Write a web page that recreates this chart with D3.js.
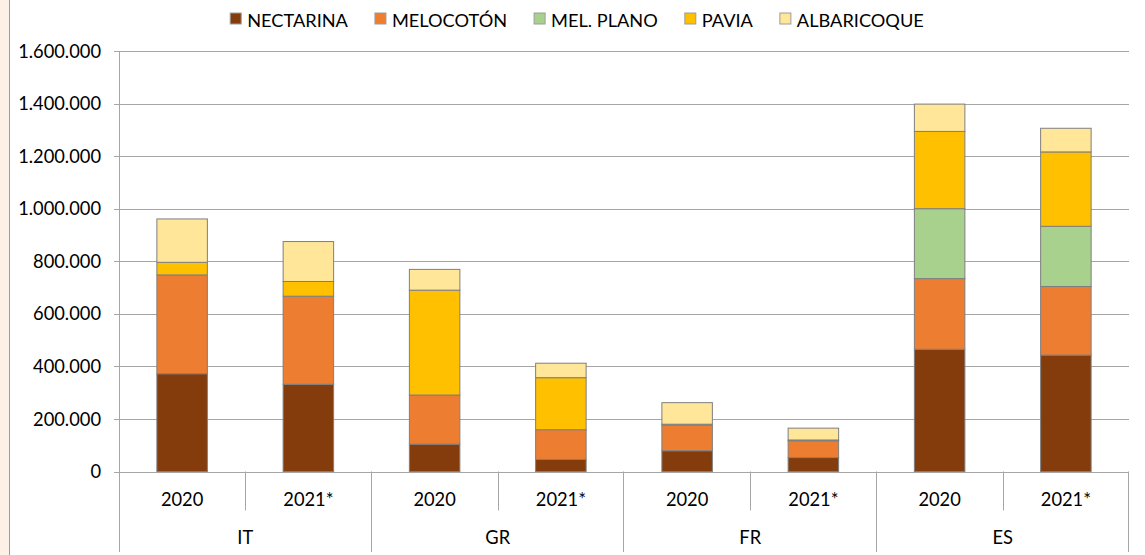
<!DOCTYPE html>
<html>
<head>
<meta charset="utf-8">
<script src="https://cdn.jsdelivr.net/npm/d3@7"></script>
<style>
  body { margin: 0; background: #fff; }
  svg { display: block; font-family: Lato, "Liberation Sans", sans-serif; }
</style>
</head>
<body>
<div id="chart"></div>
<script>
// data
var countries = ["IT", "GR", "FR", "ES"];
var years = ["2020", "2021*"];
var seriesNames = ["NECTARINA", "MELOCOTÓN", "MEL. PLANO", "PAVIA", "ALBARICOQUE"];
var colors = ["#843C0C", "#ED7D31", "#A9D18E", "#FFC000", "#FFE699"];

// order: IT 2020, IT 2021*, GR 2020, GR 2021*, FR 2020, FR 2021*, ES 2020, ES 2021*
var nectarina   = [372000, 332000, 104000, 46000, 79000, 53000, 465000, 443000];
var melocoton   = [376000, 335000, 187000, 113000, 98000, 64000, 269000, 261000];
var melPlano    = [0, 0, 0, 0, 0, 0, 266000, 229000];
var pavia       = [48000, 56000, 399000, 198000, 3000, 3000, 294000, 283000];
var albaricoque = [165000, 152000, 79000, 55000, 82000, 45000, 104000, 90000];

var yTicks = [0, 200000, 400000, 600000, 800000, 1000000, 1200000, 1400000, 1600000];

var svgWidth = 1145, svgHeight = 555;
var margin = { top: 51, left: 119, right: 16, bottom: 83.5 };

var svg = d3.select("#chart").append("svg")
  .attr("width", svgWidth)
  .attr("height", svgHeight);

// beige strip on the left edge
svg.append("rect")
  .attr("x", 0).attr("y", 0)
  .attr("width", 9).attr("height", svgHeight)
  .attr("fill", "#FDF1E7");
svg.append("line")
  .attr("x1", 9.5).attr("x2", 9.5)
  .attr("y1", 0).attr("y2", svgHeight)
  .attr("stroke", "#9C9C9C");

// build table
var table = [];
countries.forEach(function(c, ci) {
  years.forEach(function(y, yi) {
    var i = ci * 2 + yi;
    table.push({
      country: c, year: y,
      "NECTARINA": nectarina[i],
      "MELOCOTÓN": melocoton[i],
      "MEL. PLANO": melPlano[i],
      "PAVIA": pavia[i],
      "ALBARICOQUE": albaricoque[i]
    });
  });
});

var x0 = d3.scaleBand()
  .domain(countries)
  .range([margin.left, svgWidth - margin.right]);

var x1 = d3.scaleBand()
  .domain(years)
  .range([0, x0.bandwidth()])
  .paddingInner(0.6)
  .paddingOuter(0.3);

var yScale = d3.scaleLinear()
  .domain([0, 1600000])
  .range([svgHeight - margin.bottom, margin.top]);

var locale = d3.formatLocale({ decimal: ",", thousands: ".", grouping: [3], currency: ["", "€"] });
var fmt = locale.format(",d");

var gridColor = "#A6A6A6";
var fontSize = 18.3;

// gridlines
svg.append("g")
  .selectAll("line")
  .data(yTicks)
  .enter()
  .append("line")
  .attr("x1", margin.left - 5)
  .attr("x2", svgWidth - margin.right)
  .attr("y1", d => Math.round(yScale(d)) + 0.5)
  .attr("y2", d => Math.round(yScale(d)) + 0.5)
  .attr("stroke", gridColor);

// y labels
svg.append("g")
  .selectAll("text")
  .data(yTicks)
  .enter()
  .append("text")
  .attr("x", margin.left - 18)
  .attr("y", d => yScale(d))
  .attr("dy", "0.36em")
  .attr("text-anchor", "end")
  .attr("font-size", fontSize)
  .attr("fill", "#000")
  .text(d => fmt(d));

// y axis line
svg.append("line")
  .attr("x1", margin.left + 0.5).attr("x2", margin.left + 0.5)
  .attr("y1", margin.top).attr("y2", svgHeight - 3)
  .attr("stroke", gridColor);

// stacked bars
var stack = d3.stack().keys(seriesNames);
var stacked = stack(table);

svg.append("g")
  .selectAll("g")
  .data(stacked)
  .enter()
  .append("g")
  .attr("fill", (d, i) => colors[i])
  .selectAll("rect")
  .data(d => d.filter(p => p[1] - p[0] > 0))
  .enter()
  .append("rect")
  .attr("x", d => x0(d.data.country) + x1(d.data.year))
  .attr("width", x1.bandwidth())
  .attr("y", d => yScale(d[1]))
  .attr("height", d => yScale(d[0]) - yScale(d[1]))
  .attr("stroke", "#7F7F7F")
  .attr("stroke-width", 1);

// x axis: year separators and country separators
var axisY = yScale(0);
var xg = svg.append("g");

countries.forEach(function(c) {
  // middle separator between years
  var mid = Math.round(x0(c) + x0.bandwidth() / 2) + 0.5;
  xg.append("line")
    .attr("x1", mid).attr("x2", mid)
    .attr("y1", axisY).attr("y2", axisY + 39)
    .attr("stroke", gridColor);
  // right group boundary
  var right = Math.round(x0(c) + x0.bandwidth()) - 0.5;
  xg.append("line")
    .attr("x1", right).attr("x2", right)
    .attr("y1", axisY).attr("y2", svgHeight - 3)
    .attr("stroke", gridColor);

  years.forEach(function(y) {
    xg.append("text")
      .attr("x", x0(c) + x1(y) + x1.bandwidth() / 2)
      .attr("y", axisY + 34)
      .attr("text-anchor", "middle")
      .attr("font-size", fontSize)
      .attr("fill", "#000")
      .text(y);
  });

  xg.append("text")
    .attr("x", x0(c) + x0.bandwidth() / 2)
    .attr("y", axisY + 72)
    .attr("text-anchor", "middle")
    .attr("font-size", fontSize)
    .attr("fill", "#000")
    .text(c);
});

// legend
var legend = svg.append("g");
var items = legend.selectAll("g")
  .data(seriesNames)
  .enter()
  .append("g");

items.append("rect")
  .attr("width", 11).attr("height", 11)
  .attr("y", 13)
  .attr("fill", (d, i) => colors[i])
  .attr("stroke", "#9C9C9C");

items.append("text")
  .attr("x", 17)
  .attr("y", 26.5)
  .attr("font-size", 18.2)
  .attr("fill", "#000")
  .text(d => d);

var pos = 0;
var widths = [];
items.each(function() {
  var w = d3.select(this).select("text").node().getComputedTextLength() + 17;
  widths.push(w);
});
var gap = 27;
var total = d3.sum(widths) + gap * (widths.length - 1);
var startX = 577 - total / 2;
items.attr("transform", function(d, i) {
  var xx = startX + pos;
  pos += widths[i] + gap;
  return "translate(" + xx + ",0)";
});
</script>
</body>
</html>
